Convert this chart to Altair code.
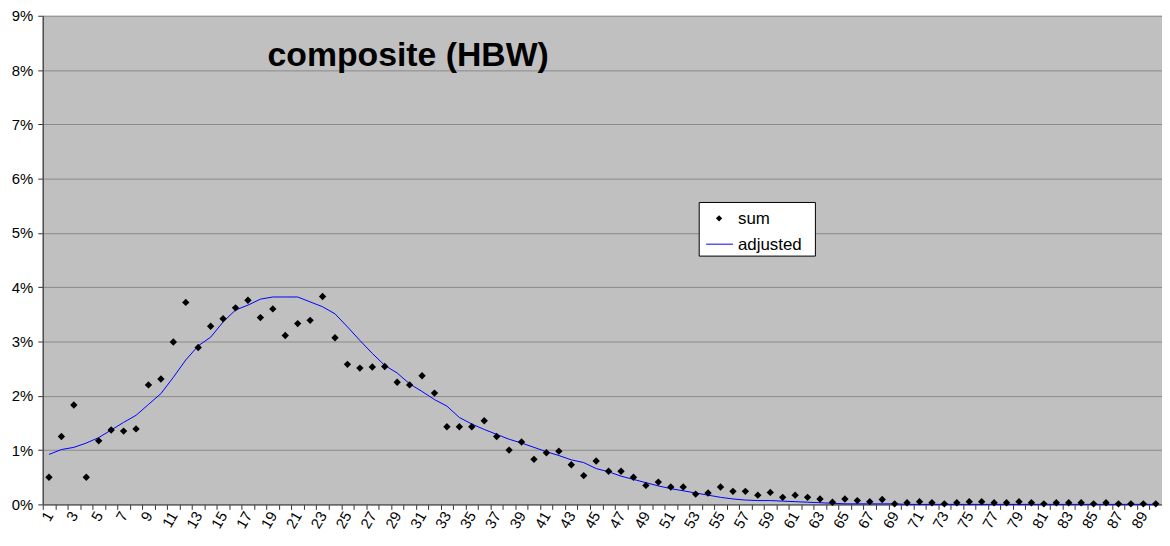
import altair as alt
import pandas as pd

categories = list(range(1, 91))

sum_pct = [0.50, 1.25, 1.83, 0.50, 1.17, 1.37, 1.35, 1.39, 2.20, 2.31,
           2.99, 3.72, 2.89, 3.28, 3.42, 3.62, 3.76, 3.44, 3.60, 3.11,
           3.33, 3.39, 3.83, 3.07, 2.58, 2.51, 2.53, 2.54, 2.25, 2.20,
           2.37, 2.05, 1.43, 1.43, 1.43, 1.54, 1.25, 1.00, 1.15, 0.83,
           0.95, 0.98, 0.73, 0.53, 0.80, 0.61, 0.61, 0.50, 0.35, 0.41,
           0.32, 0.32, 0.19, 0.21, 0.32, 0.24, 0.24, 0.17, 0.22, 0.13,
           0.17, 0.13, 0.10, 0.04, 0.10, 0.07, 0.05, 0.09, 0.01, 0.03,
           0.05, 0.03, 0.01, 0.03, 0.05, 0.05, 0.03, 0.03, 0.05, 0.03,
           0.01, 0.03, 0.03, 0.03, 0.01, 0.03, 0.01, 0.01, 0.01, 0.01]

adjusted_pct = [0.92, 1.01, 1.05, 1.13, 1.23, 1.37, 1.51, 1.64, 1.84, 2.04,
                2.34, 2.66, 2.92, 3.08, 3.36, 3.58, 3.67, 3.78, 3.82, 3.82,
                3.82, 3.73, 3.64, 3.51, 3.27, 3.02, 2.78, 2.56, 2.42, 2.22,
                2.08, 1.93, 1.81, 1.60, 1.48, 1.38, 1.29, 1.20, 1.13, 1.05,
                0.97, 0.90, 0.82, 0.77, 0.66, 0.60, 0.52, 0.46, 0.40, 0.34,
                0.29, 0.25, 0.21, 0.17, 0.13, 0.10, 0.08, 0.07, 0.07, 0.06,
                0.05, 0.04, 0.03, 0.02, 0.01, 0.01, 0.01, 0.01, 0.01, 0.00,
                0.00, 0.00, 0.00, 0.00, 0.00, 0.00, 0.00, 0.00, 0.00, 0.00,
                0.00, 0.00, 0.00, 0.00, 0.00, 0.00, 0.00, 0.00, 0.00, 0.00]

y_ticks = [0, 0.01, 0.02, 0.03, 0.04, 0.05, 0.06, 0.07, 0.08, 0.09]

title_text = "composite (HBW)"
legend_labels = ["sum", "adjusted"]

df = pd.DataFrame({
    "cat": categories,
    "sum": [v / 100 for v in sum_pct],
    "adjusted": [v / 100 for v in adjusted_pct],
})

FONT = "Liberation Sans"

x_enc = alt.X(
    "cat:O",
    title=None,
    scale=alt.Scale(paddingInner=0, paddingOuter=0),
    axis=alt.Axis(
        labelExpr="datum.value % 2 == 1 ? datum.label : ''",
        labelAngle=-60,
        labelAlign="right",
        labelBaseline="middle",
        labelOverlap=False,
        labelFontSize=15,
        labelFont=FONT,
        labelColor="black",
        labelPadding=3,
        tickBand="extent",
        tickSize=5,
        tickColor="#303030",
        domainColor="#505050",
        domainWidth=1.5,
        grid=False,
    ),
)

y_scale = alt.Scale(domain=[0, 0.09], nice=False)
y_axis = alt.Axis(
    values=y_ticks,
    format=".0%",
    title=None,
    labelFontSize=15,
    labelFont=FONT,
    labelColor="black",
    labelPadding=5,
    tickSize=5,
    tickColor="#303030",
    domainColor="#505050",
    domainWidth=1.5,
    grid=True,
    gridColor="#8a8a8a",
    gridWidth=1,
)

line = alt.Chart(df).mark_line(color="#0000ff", strokeWidth=1).encode(
    x=x_enc,
    y=alt.Y("adjusted:Q", scale=y_scale, axis=y_axis),
)

points = alt.Chart(df).mark_point(
    shape="diamond", filled=True, color="black", size=55, opacity=1
).encode(
    x=x_enc,
    y=alt.Y("sum:Q", scale=y_scale, axis=y_axis),
)

one = pd.DataFrame({"k": [0]})

title = alt.Chart(one).mark_text(
    text=title_text, font=FONT, fontSize=34, fontWeight="bold",
    align="center", baseline="alphabetic", color="black"
).encode(x=alt.value(368), y=alt.value(51))

leg_box = alt.Chart(one).mark_rect(
    fill="white", stroke="black", strokeWidth=1
).encode(x=alt.value(661), x2=alt.value(778), y=alt.value(188), y2=alt.value(242))

leg_pt = alt.Chart(one).mark_point(
    shape="diamond", filled=True, color="black", size=40, opacity=1
).encode(x=alt.value(681), y=alt.value(204))

leg_line = alt.Chart(one).mark_rule(color="#0000ff", strokeWidth=1).encode(
    x=alt.value(668), x2=alt.value(695), y=alt.value(230)
)

leg_t1 = alt.Chart(one).mark_text(
    text=legend_labels[0], font=FONT, fontSize=17, align="left",
    baseline="alphabetic", color="black"
).encode(x=alt.value(700), y=alt.value(210))

leg_t2 = alt.Chart(one).mark_text(
    text=legend_labels[1], font=FONT, fontSize=17, align="left",
    baseline="alphabetic", color="black"
).encode(x=alt.value(700), y=alt.value(236))

chart = alt.layer(
    line, points, title, leg_box, leg_pt, leg_line, leg_t1, leg_t2
).properties(
    width=1127,
    height=492,
    autosize=alt.AutoSizeParams(type="none"),
    padding={"left": 35, "top": 6, "right": 0, "bottom": 27},
    background="white",
).configure_view(
    fill="#c0c0c0", stroke=None
)

chart.save("out.html", embed_options={"renderer": "svg", "actions": False})
